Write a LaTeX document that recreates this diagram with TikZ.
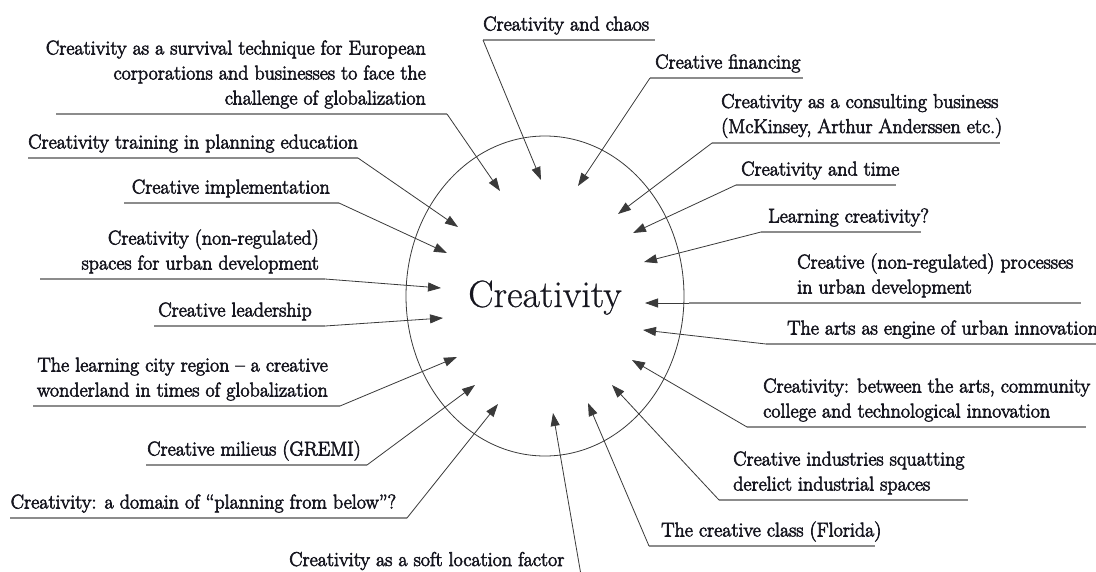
\documentclass[tikz,border=0pt]{standalone}
\usepackage{fontspec}
\usepackage{tikz}
\usetikzlibrary{arrows.meta}
\newfontfamily\labfont{Latin Modern Roman}[FakeBold=3]
\newfontfamily\corefont{Latin Modern Roman}[FakeBold=0.6]
\definecolor{txt}{HTML}{16161F}
\definecolor{ul}{HTML}{8C8C8C}
\definecolor{cn}{HTML}{3A3A3A}
\tikzset{
  lbl/.style={inner sep=0pt, text=txt, font=\labfont\fontsize{20}{25}\selectfont},
  lw/.style={lbl, anchor=base west},
  le/.style={lbl, anchor=base east},
  uline/.style={draw=ul, line width=1.3pt},
  conn/.style={draw=cn, line width=0.8pt, -{Triangle[length=13pt,width=9pt]}},
  ring/.style={draw=cn, line width=0.8pt},
}
\begin{document}
\begin{tikzpicture}[x=1pt,y=-1pt]
\useasboundingbox[fill=white] (0,0) rectangle (1096,571);
% central circle and title
\draw[ring] (545,296) ellipse [x radius=139, y radius=160];
\node[inner sep=0pt, anchor=base, text=txt, font=\corefont\fontsize{38}{40}\selectfont] (core) at (545,307) {Creativity};
% tips
\coordinate (t1) at (541,180);
\coordinate (t2) at (578,186);
\coordinate (t3) at (618,214);
\coordinate (t4) at (633,233);
\coordinate (t5) at (644,262);
\coordinate (t6) at (645,303);
\coordinate (t7) at (643,330);
\coordinate (t8) at (632,360);
\coordinate (t9) at (612,385);
\coordinate (t10) at (588,403);
\coordinate (t11) at (553,413);
\coordinate (t12) at (498,404);
\coordinate (t13) at (475,385);
\coordinate (t14) at (457,357);
\coordinate (t15) at (443,318);
\coordinate (t16) at (441,288);
\coordinate (t17) at (447,253);
\coordinate (t18) at (458,227);
\coordinate (t19) at (500,191);
% underline ends (a = connector end, b = far end)
\coordinate (a1) at (483,40);   \coordinate (b1) at (655,40);
\coordinate (a2) at (650,78);   \coordinate (b2) at (803,78);
\coordinate (a3) at (712,143);  \coordinate (b3) at (1000,143);
\coordinate (a4) at (736,185);  \coordinate (b4) at (896,185);
\coordinate (a5) at (761,232);  \coordinate (b5) at (921,232);
\coordinate (a6) at (689,303);  \coordinate (b6) at (1081,303);
\coordinate (a7) at (766,344);  \coordinate (b7) at (1100,344);
\coordinate (a8) at (747,427);  \coordinate (b8) at (1086,427);
\coordinate (a9) at (719,500);  \coordinate (b9) at (968,500);
\coordinate (a10) at (649,546); \coordinate (b10) at (875,546);
\coordinate (a11) at (581,575);
\coordinate (a12) at (407,518); \coordinate (b12) at (10,518);
\coordinate (a13) at (367,465); \coordinate (b13) at (146,465);
\coordinate (a14) at (340,406); \coordinate (b14) at (33,406);
\coordinate (a15) at (325,326); \coordinate (b15) at (154,326);
\coordinate (a16) at (325,279); \coordinate (b16) at (40,279);
\coordinate (a17) at (339,203); \coordinate (b17) at (124,203);
\coordinate (a18) at (358,158); \coordinate (b18) at (28,158);
\coordinate (a19) at (447,114); \coordinate (b19) at (56,114);
% underlines
\foreach \i in {1,2,3,4,5,6,7,8,9,10,12,13,14,15,16,17,18,19}
  \draw[uline] (a\i) -- (b\i);
% connectors
\foreach \i in {1,...,19}
  \draw[conn] (a\i) -- (t\i);
% labels, right side
\node[lw] (l1) at (483,30.5) {Creativity and chaos};
\node[lw] (l2) at (655,68.5) {Creative financing};
\node[lw] (l3a) at (721,108) {Creativity as a consulting business};
\node[lw] (l3b) at (721,133) {(McKinsey, Arthur Anderssen etc.)};
\node[lw] (l4) at (741,175.5) {Creativity and time};
\node[lw] (l5) at (768,222.5) {Learning creativity?};
\node[lw] (l6a) at (797,268.5) {Creative (non-regulated) processes};
\node[lw] (l6b) at (797,293.5) {in urban development};
\node[lw] (l7) at (787,334.5) {The arts as engine of urban innovation};
\node[lw] (l8a) at (763,392.5) {Creativity: between the arts, community};
\node[lw] (l8b) at (763,417.5) {college and technological innovation};
\node[lw] (l9a) at (733,465.5) {Creative industries squatting};
\node[lw] (l9b) at (733,490.5) {derelict industrial spaces};
\node[lw] (l10) at (661,536.5) {The creative class (Florida)};
\node[lw] (l11) at (289,566) {Creativity as a soft location factor};
% labels, left side
\node[lw] (l12) at (10.5,508.5) {Creativity: a domain of “planning from below”?};
\node[le] (l13) at (361,455.5) {Creative milieus (GREMI)};
\node[le] (l14a) at (328,371.5) {The learning city region – a creative};
\node[le] (l14b) at (328,396.5) {wonderland in times of globalization};
\node[le] (l15) at (312,316.5) {Creative leadership};
\node[le] (l16a) at (319,244.5) {Creativity (non-regulated)};
\node[le] (l16b) at (319,269.5) {spaces for urban development};
\node[le] (l17) at (330,193.5) {Creative implementation};
\node[lw] (l18) at (28,148.5) {Creativity training in planning education};
\node[le] (l19a) at (426,54.5) {Creativity as a survival technique for European};
\node[le] (l19b) at (426,79.5) {corporations and businesses to face the};
\node[le] (l19c) at (426,104.5) {challenge of globalization};
\end{tikzpicture}
\end{document}
